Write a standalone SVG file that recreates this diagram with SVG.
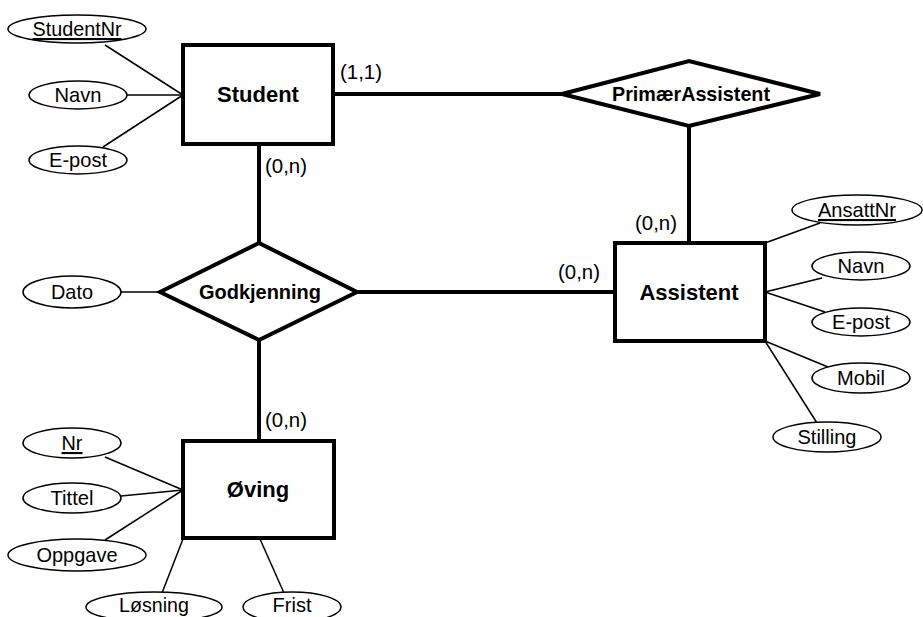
<svg xmlns="http://www.w3.org/2000/svg" width="923" height="617" viewBox="0 0 923 617">
<style>
text{font-family:"Liberation Sans",Arial,sans-serif;fill:#000}
.t{font-size:21px;text-anchor:middle}
.c{font-size:21px}
.b{font-size:22px;font-weight:bold;text-anchor:middle}
.rb{font-size:21px;font-weight:bold;text-anchor:middle}
.ent{fill:#fff;stroke:#000;stroke-width:4}
.rel{fill:#fff;stroke:#000;stroke-width:4;stroke-linejoin:miter}
.att{fill:#fff;stroke:#000;stroke-width:1.5}
.thin{stroke:#000;stroke-width:1.5;fill:none}
.thick{stroke:#000;stroke-width:4;fill:none}
</style>
<rect width="923" height="617" fill="#fff"/>
<g id="connectors">
<line class="thin" x1="105" y1="45" x2="183" y2="95"/>
<line class="thin" x1="127" y1="95" x2="183" y2="95"/>
<line class="thin" x1="103" y1="147" x2="183" y2="95"/>
<line class="thick" x1="333" y1="94" x2="562" y2="94"/>
<line class="thick" x1="689" y1="126" x2="689" y2="243"/>
<line class="thick" x1="259" y1="144" x2="259" y2="243"/>
<line class="thin" x1="120" y1="292" x2="160" y2="292"/>
<line class="thick" x1="357" y1="292" x2="615" y2="292"/>
<line class="thick" x1="259" y1="340" x2="259" y2="441"/>
<line class="thin" x1="765" y1="243" x2="820" y2="223"/>
<line class="thin" x1="765" y1="292" x2="822" y2="278"/>
<line class="thin" x1="765" y1="292" x2="825" y2="312"/>
<line class="thin" x1="765" y1="341" x2="828" y2="367"/>
<line class="thin" x1="765" y1="341" x2="817" y2="423"/>
<line class="thin" x1="105" y1="457" x2="183" y2="490"/>
<line class="thin" x1="121" y1="496" x2="183" y2="490"/>
<line class="thin" x1="105" y1="540" x2="183" y2="490"/>
<line class="thin" x1="183" y1="539" x2="162" y2="593"/>
<line class="thin" x1="260" y1="539" x2="284" y2="593"/>
<text class="c" x="340" y="79" textLength="42" lengthAdjust="spacingAndGlyphs">(1,1)</text>
<text class="c" x="265" y="173" textLength="42" lengthAdjust="spacingAndGlyphs">(0,n)</text>
<text class="c" x="635" y="230" textLength="42" lengthAdjust="spacingAndGlyphs">(0,n)</text>
<text class="c" x="558" y="279" textLength="42" lengthAdjust="spacingAndGlyphs">(0,n)</text>
<text class="c" x="265" y="427" textLength="42" lengthAdjust="spacingAndGlyphs">(0,n)</text>
</g>
<g id="Student"><rect class="ent" x="183" y="45" width="150" height="99"/><text class="b" x="258" y="102">Student</text></g>
<g id="StudentNr"><ellipse class="att" cx="77" cy="29" rx="69" ry="14"/><text class="t" x="77" y="36" text-decoration="underline" textLength="89" lengthAdjust="spacingAndGlyphs">StudentNr</text></g>
<g id="StudentNavn"><ellipse class="att" cx="78" cy="95" rx="49" ry="14"/><text class="t" x="78" y="102" textLength="47" lengthAdjust="spacingAndGlyphs">Navn</text></g>
<g id="StudentEpost"><ellipse class="att" cx="78" cy="160" rx="49" ry="14"/><text class="t" x="78" y="167" textLength="58" lengthAdjust="spacingAndGlyphs">E-post</text></g>
<g id="PrimaerAssistent"><polygon class="rel" points="562,94 689,61 820,94 689,126"/><text class="rb" x="691" y="101" textLength="158" lengthAdjust="spacingAndGlyphs">PrimærAssistent</text></g>
<g id="Godkjenning"><polygon class="rel" points="160,292 259,243 357,292 259,340"/><text class="rb" x="260" y="299" textLength="122" lengthAdjust="spacingAndGlyphs">Godkjenning</text></g>
<g id="Dato"><ellipse class="att" cx="72" cy="292" rx="49" ry="16"/><text class="t" x="72" y="299" textLength="42" lengthAdjust="spacingAndGlyphs">Dato</text></g>
<g id="Assistent"><rect class="ent" x="615" y="243" width="150" height="98"/><text class="b" x="689" y="300">Assistent</text></g>
<g id="AnsattNr"><ellipse class="att" cx="857" cy="210" rx="65" ry="15"/><text class="t" x="857" y="217" text-decoration="underline" textLength="78" lengthAdjust="spacingAndGlyphs">AnsattNr</text></g>
<g id="AssistentNavn"><ellipse class="att" cx="861" cy="266" rx="49" ry="14"/><text class="t" x="861" y="273" textLength="47" lengthAdjust="spacingAndGlyphs">Navn</text></g>
<g id="AssistentEpost"><ellipse class="att" cx="861" cy="322" rx="49" ry="14"/><text class="t" x="861" y="329" textLength="58" lengthAdjust="spacingAndGlyphs">E-post</text></g>
<g id="Mobil"><ellipse class="att" cx="861" cy="378" rx="49" ry="15"/><text class="t" x="861" y="385" textLength="48" lengthAdjust="spacingAndGlyphs">Mobil</text></g>
<g id="Stilling"><ellipse class="att" cx="827" cy="437" rx="54" ry="15"/><text class="t" x="827" y="444" textLength="59" lengthAdjust="spacingAndGlyphs">Stilling</text></g>
<g id="Oving"><rect class="ent" x="183" y="441" width="151" height="97"/><text class="b" x="258" y="497">Øving</text></g>
<g id="Nr"><ellipse class="att" cx="72" cy="443" rx="49" ry="15"/><text class="t" x="72" y="450" text-decoration="underline" textLength="21" lengthAdjust="spacingAndGlyphs">Nr</text></g>
<g id="Tittel"><ellipse class="att" cx="72" cy="498" rx="49" ry="15"/><text class="t" x="72" y="505" textLength="43" lengthAdjust="spacingAndGlyphs">Tittel</text></g>
<g id="Oppgave"><ellipse class="att" cx="77" cy="555" rx="69" ry="16"/><text class="t" x="77" y="562" textLength="81" lengthAdjust="spacingAndGlyphs">Oppgave</text></g>
<g id="Losning"><ellipse class="att" cx="154" cy="607" rx="68" ry="15"/><text class="t" x="154" y="612" textLength="70" lengthAdjust="spacingAndGlyphs">Løsning</text></g>
<g id="Frist"><ellipse class="att" cx="292" cy="607" rx="49" ry="15"/><text class="t" x="292" y="612" textLength="39" lengthAdjust="spacingAndGlyphs">Frist</text></g>
</svg>
